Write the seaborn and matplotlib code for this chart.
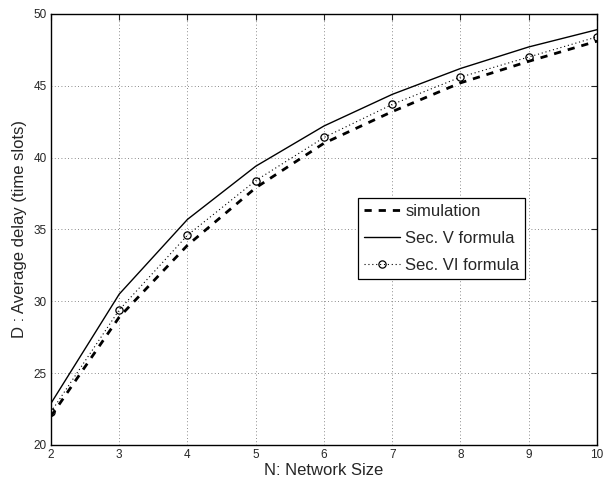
import numpy as np
import pandas as pd
import matplotlib
matplotlib.use("Agg")
import matplotlib.pyplot as plt
import seaborn as sns

network_size = [2, 3, 4, 5, 6, 7, 8, 9, 10]
simulation = [22.0, 28.9, 33.9, 37.9, 41.0, 43.2, 45.2, 46.7, 48.1]
sec_v_formula = [22.9, 30.5, 35.7, 39.4, 42.2, 44.4, 46.2, 47.7, 48.9]
sec_vi_formula = [22.3, 29.4, 34.6, 38.4, 41.4, 43.7, 45.6, 47.0, 48.4]

sns.set_style("white")
plt.rcParams['font.family'] = ['Liberation Sans', 'DejaVu Sans']

fig = plt.figure(figsize=(6.07, 4.79), dpi=100)
ax = fig.add_axes([0.084, 0.071, 0.8995, 0.9])

df = pd.DataFrame({"N": network_size, "sim": simulation,
                   "v": sec_v_formula, "vi": sec_vi_formula})

sns.lineplot(data=df, x="N", y="sim", ax=ax, color="black", lw=2.0,
             label="simulation")
sns.lineplot(data=df, x="N", y="v", ax=ax, color="black", lw=1.0,
             label="Sec. V formula")
sns.lineplot(data=df, x="N", y="vi", ax=ax, color="black", lw=0.8,
             marker="o", markersize=5.2,
             markerfacecolor="none", markeredgecolor="black",
             markeredgewidth=0.9, label="Sec. VI formula")

# matlab-ish line styles
ax.lines[0].set_linestyle((0, (2.6, 2.5)))
ax.lines[0].set_dash_capstyle("butt")
ax.lines[2].set_linestyle((0, (1, 2.5)))

ax.set_xlim(2, 10)
ax.set_ylim(20, 50)
ax.set_xticks(range(2, 11))
ax.set_yticks(range(20, 51, 5))
ax.grid(True, linestyle=(0, (1, 3)), color="#666666", lw=0.6)
ax.tick_params(direction="in", top=True, right=True, labelsize=8.5,
               length=4, width=0.8, pad=3)
for s in ax.spines.values():
    s.set_linewidth(1.0)
    s.set_color("black")

ax.set_xlabel("N: Network Size", fontsize=12, labelpad=1)
ax.set_ylabel("D : Average delay (time slots)", fontsize=12, labelpad=5)

leg = ax.legend(loc="upper left", bbox_to_anchor=(0.562, 0.573), fontsize=12,
                frameon=True, fancybox=False, edgecolor="black",
                framealpha=1, borderpad=0.35, handlelength=2.2,
                handletextpad=0.3, labelspacing=0.72, borderaxespad=0)
leg.get_frame().set_linewidth(0.9)

fig.savefig("out.png", dpi=100)
